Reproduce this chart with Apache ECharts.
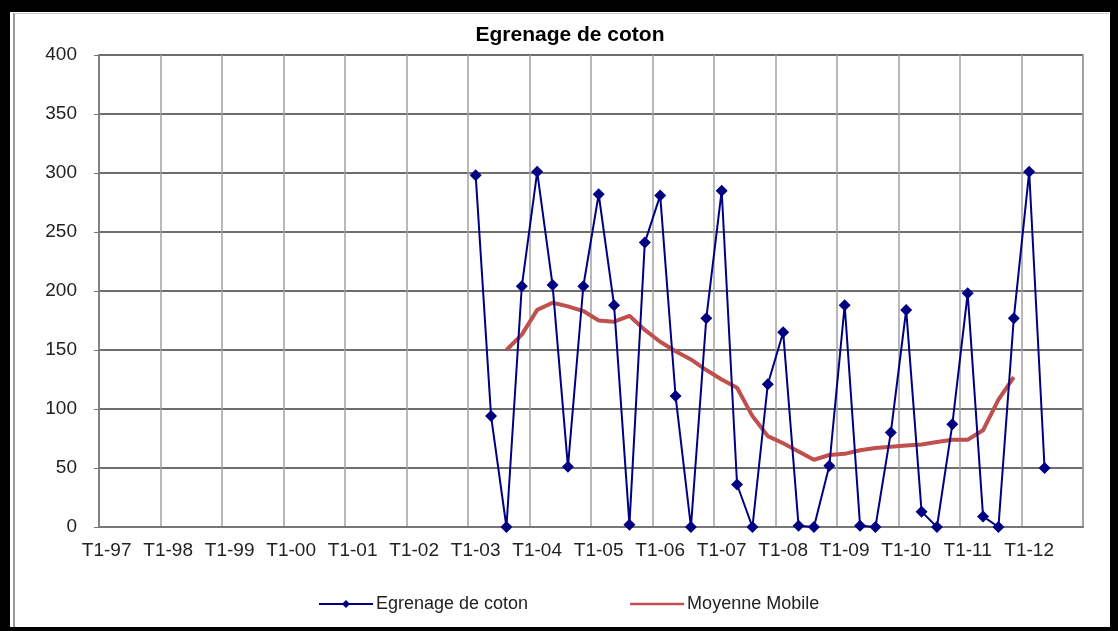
<!DOCTYPE html>
<html>
<head>
<meta charset="utf-8">
<title>Egrenage de coton</title>
<script src="https://cdn.jsdelivr.net/npm/echarts@6/dist/echarts.min.js"></script>
<style>
html,body{margin:0;padding:0;background:#000;}
#cadre{position:absolute;left:10px;top:12px;width:1100px;height:615px;background:#fff;}
#trait{position:absolute;left:3px;top:1px;bottom:0;border-left:2px solid #999;border-top:1px solid #ccc;width:1094px;}
#main{position:absolute;left:0;top:0;width:1118px;height:631px;}
</style>
</head>
<body>
<div id="cadre"><div id="trait"></div></div>
<div id="main"></div>
<script>
// trimestres T1-97 ... T4-12
var annees = ['97','98','99','00','01','02','03','04','05','06','07','08','09','10','11','12'];
var trimestres = ['T1','T2','T3','T4'];

// Egrenage de coton, a partir de T1-03
var egrenage = [298, 94, 0, 204, 301, 205, 51, 204, 282, 188, 2, 241, 281, 111, 0, 177,
	285, 36, 0, 121, 165, 1, 0, 52, 188, 1, 0, 80, 184, 13, 0, 87, 198, 9, 0, 177, 301, 50];
var debutEgrenage = 'T1-03';

// Moyenne Mobile, a partir de T3-03
var moyenne = [150, 163, 184, 190, 187, 183, 175, 174, 179, 167, 157, 149, 142, 133, 125, 118,
	94, 77, 71, 64, 57, 61, 62, 65, 67, 68, 69, 70, 72, 74, 74, 82, 108, 127];
var debutMoyenne = 'T3-03';

var categories = [];
for (var a in annees) {
	for (var t in trimestres) {
		categories.push(trimestres[t] + '-' + annees[a]);
	}
}

function placer(valeurs, debut){
	var out = [];
	var i0 = categories.indexOf(debut);
	for (var i = 0; i < categories.length; i++) {
		var k = i - i0;
		out.push(k >= 0 && k < valeurs.length ? valeurs[k] : null);
	}
	return out;
}

var option = {
	animation: false,
	title: {
		text: 'Egrenage de coton',
		left: 565,
		textAlign: 'center',
		top: 20,
		textStyle: {
			fontFamily: 'Liberation Sans',
			fontSize: 21,
			fontWeight: 'bold',
			color: '#000'
		}
	},
	grid: {
		left: 99,
		right: 35,
		top: 55,
		bottom: 104,
		show: true,
		borderColor: '#8a8a8a',
		borderWidth: 1.5
	},
	legend: {
		bottom: 13,
		left: 313,
		itemWidth: 54,
		itemHeight: 10,
		itemGap: 102,
		textStyle: {
			fontFamily: 'Liberation Sans',
			fontSize: 18,
			color: '#222',
			padding: [0, 0, 0, -2]
		},
		data: [
			{ name: 'Egrenage de coton' },
			{ name: 'Moyenne Mobile', icon: 'path://M0,0h54v2.4h-54z' }
		]
	},
	xAxis: {
		type: 'category',
		data: categories,
		boundaryGap: true,
		axisLine: { lineStyle: { color: '#777', width: 2 } },
		axisTick: { interval: 3, length: 5, lineStyle: { color: '#777' } },
		axisLabel: {
			interval: 3,
			margin: 14,
			fontFamily: 'Liberation Sans',
			fontSize: 19,
			color: '#222'
		},
		splitLine: { show: true, interval: 3, lineStyle: { color: '#a0a0a0', width: 1.5 } }
	},
	yAxis: {
		type: 'value',
		min: 0,
		max: 400,
		interval: 50,
		axisLine: { show: true, lineStyle: { color: '#777', width: 1.5 } },
		axisTick: { show: true, inside: false, length: 5, lineStyle: { color: '#777' } },
		axisLabel: {
			margin: 22,
			fontFamily: 'Liberation Sans',
			fontSize: 19,
			color: '#222'
		},
		splitLine: { lineStyle: { color: '#6e6e6e', width: 2 } }
	},
	series: [
		{
			name: 'Egrenage de coton',
			type: 'line',
			data: placer(egrenage, debutEgrenage),
			symbol: 'diamond',
			symbolSize: 12,
			showAllSymbol: true,
			connectNulls: false,
			itemStyle: { color: '#000080' },
			lineStyle: { color: '#000080', width: 2 },
			z: 3
		},
		{
			name: 'Moyenne Mobile',
			type: 'line',
			data: placer(moyenne, debutMoyenne),
			symbol: 'none',
			itemStyle: { color: '#c0504d' },
			lineStyle: { color: '#c0504d', width: 4 },
			z: 2
		}
	]
};

var myChart = echarts.init(document.getElementById('main'));
myChart.setOption(option);
</script>
</body>
</html>
